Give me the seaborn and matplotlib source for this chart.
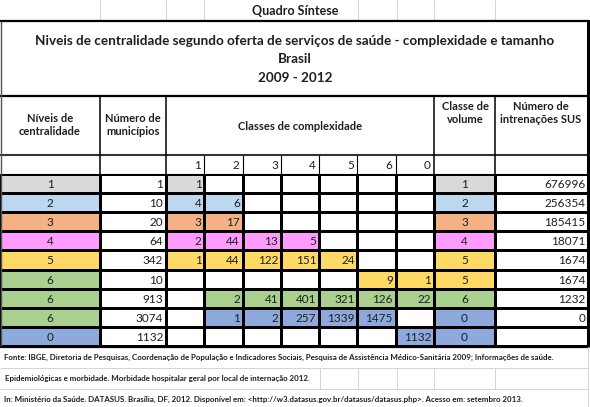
import numpy as np
import pandas as pd
import matplotlib
matplotlib.use("Agg")
import matplotlib.pyplot as plt
from matplotlib.colors import ListedColormap
import seaborn as sns

niveis = ["1", "2", "3", "4", "5", "6", "6", "6", "0"]
municipios = [1, 10, 20, 64, 342, 10, 913, 3074, 1132]
classes_complexidade = ["1", "2", "3", "4", "5", "6", "0"]
complexidade = [
    [1, None, None, None, None, None, None],
    [4, 6, None, None, None, None, None],
    [3, 17, None, None, None, None, None],
    [2, 44, 13, 5, None, None, None],
    [1, 44, 122, 151, 24, None, None],
    [None, None, None, None, None, 9, 1],
    [None, 2, 41, 401, 321, 126, 22],
    [None, 1, 2, 257, 1339, 1475, None],
    [None, None, None, None, None, None, 1132],
]
classe_volume = ["1", "2", "3", "4", "5", "5", "6", "0", "0"]
internacoes = [676996, 256354, 185415, 18071, 1674, 1674, 1232, 0, None]

class_order = ["1", "2", "3", "4", "5", "6", "0"]
class_colors = ["#D9D9D9", "#BDD7EE", "#F4B183", "#FF9BFF", "#FFD966", "#A9D08E", "#8EA9DB"]
code = {c: i + 1 for i, c in enumerate(class_order)}  # 0 = white

cmap = ListedColormap(["white"] + class_colors)

sns.set_style("white")
plt.rcParams["font.family"] = ["Lato", "DejaVu Sans"]
TXT = "#1E1E1E"

W, H = 590, 407
fig = plt.figure(figsize=(W / 100, H / 100), dpi=100)
fig.patch.set_facecolor("white")


def px_axes(x0, y0, x1, y1):
    return fig.add_axes([x0 / W, 1 - y1 / H, (x1 - x0) / W, (y1 - y0) / H])


ROW_TOP, ROW_BOT = 174, 346
col_edges = {"lvl": (0, 100), "mun": (100, 166), "cls": (166, 434),
             "vol": (434, 495), "sus": (495, 588)}

n = len(niveis)
lvl_codes = np.array([[code[v]] for v in niveis])
mun_codes = np.zeros((n, 1))
cls_codes = np.array([[code[classe_volume[i]] if v is not None else 0 for v in row]
                      for i, row in enumerate(complexidade)])
vol_codes = np.array([[code[v]] for v in classe_volume])
sus_codes = np.zeros((n, 1))

blocks = [
    ("lvl", lvl_codes, [[v] for v in niveis], "center"),
    ("mun", mun_codes, [[v] for v in municipios], "right"),
    ("cls", cls_codes, complexidade, "right"),
    ("vol", vol_codes, [[v] for v in classe_volume], "center"),
    ("sus", sus_codes, [[v] for v in internacoes], "right"),
]

for key, codes, labels, align in blocks:
    x0, x1 = col_edges[key]
    ax = px_axes(x0, ROW_TOP, x1, ROW_BOT)
    sns.heatmap(pd.DataFrame(codes), cmap=cmap, vmin=-0.5, vmax=7.5, cbar=False,
                linewidths=0.8, linecolor="black", xticklabels=False,
                yticklabels=False, ax=ax)
    for i, row in enumerate(labels):
        for j, v in enumerate(row):
            if v is None:
                continue
            if align == "center":
                ax.text(j + 0.5, i + 0.55, str(v), ha="center", va="center",
                        fontsize=8.5, color=TXT)
            else:
                ax.annotate(str(v), xy=(j + 1, i + 0.55), xytext=(-2, 0),
                            textcoords="offset points", ha="right", va="center",
                            fontsize=8.5, color=TXT)

# ---- overlay for headers, borders and notes ----
ov = fig.add_axes([0, 0, 1, 1])
ov.set_xlim(0, W)
ov.set_ylim(H, 0)
ov.axis("off")
ov.patch.set_alpha(0)

grid = "#D4D4D4"
ov.vlines([100, 166, 204, 358, 397, 434, 495], 0, 20, color=grid, lw=0.7)
ov.text(295, 11, "Quadro Síntese", ha="center", va="center", fontsize=9,
        fontweight="bold", color=TXT)

title = dict(ha="center", va="center", fontsize=9.7, fontweight="bold", color=TXT)
ov.text(295, 41, "Niveis de centralidade segundo oferta de serviços de saúde - complexidade e tamanho", **title)
ov.text(295, 59, "Brasil", **title)
ov.text(295, 78, "2009 - 2012", **title)

hdr = dict(ha="center", va="center", fontsize=8, fontweight="bold", color=TXT,
           linespacing=1.25)
ov.text(50, 125, "Níveis de\ncentralidade", **hdr)
ov.text(133, 125, "Número de\nmunicípios", **hdr)
ov.text(300, 127, "Classes de complexidade", **hdr)
ov.text(465, 113, "Classe de\nvolume", **hdr)
ov.text(541, 113, "Número de\nintrenações SUS", **hdr)

cw = (434 - 166) / len(classes_complexidade)
for j, c in enumerate(classes_complexidade):
    ov.text(166 + (j + 1) * cw - 3, 165.5, c, ha="right", va="center",
            fontsize=8.5, color=TXT)
ov.vlines([166 + k * cw for k in range(1, 7)], 155, 174, color="black", lw=0.8)

# frame lines
ov.hlines(21, 0, 590, color="black", lw=1.6)
ov.hlines(96, 0, 588, color="black", lw=1.6)
ov.hlines(155, 0, 588, color="#333333", lw=1.5)
ov.hlines(174, 0, 588, color="black", lw=0.8)
ov.hlines(346.5, 0, 588, color="black", lw=1.6)
ov.vlines([100, 166, 434, 495], 96, 346, color="black", lw=1.1)
ov.vlines(588, 21, 347, color="black", lw=2.2)
ov.vlines(0.5, 21, 346, color="#555555", lw=1.0)

# footnotes
ov.hlines([368, 389], 0, 588, color=grid, lw=0.7)
ov.vlines([320, 358, 397, 434, 495], 368, 389, color=grid, lw=0.7)
ov.vlines(588, 347, 407, color=grid, lw=0.7)
note = dict(ha="left", va="center", fontsize=5.65, fontweight="bold", color=TXT)
ov.text(4, 357, "Fonte: IBGE, Diretoria de Pesquisas, Coordenação de População e Indicadores Sociais, "
        "Pesquisa de Assistência Médico-Sanitária 2009; Informações de saúde.", **note)
ov.text(5, 378.5, "Epidemiológicas e morbidade. Morbidade hospitalar geral por local de internação 2012.", **note)
ov.text(4, 399, "In: Ministério da Saúde. DATASUS. Brasília, DF, 2012. Disponível em: "
        "<http://w3.datasus.gov.br/datasus/datasus.php>. Acesso em: setembro 2013.", **note)

fig.savefig("out.png", dpi=100, facecolor="white")
